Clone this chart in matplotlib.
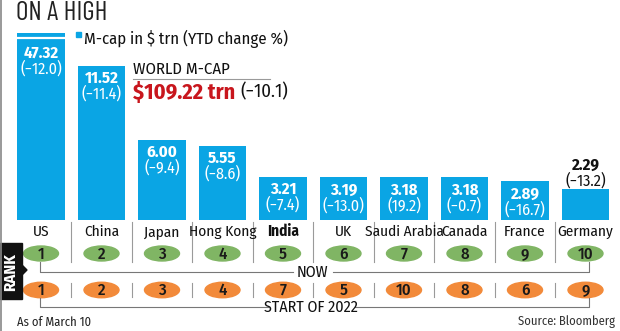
import matplotlib
matplotlib.use("Agg")
import matplotlib.pyplot as plt
from matplotlib.patches import Ellipse, Rectangle, Polygon

plt.rcParams['font.family'] = ['Fira Sans Condensed', 'Roboto Condensed', 'DejaVu Sans']
TITLE = ['Barlow Condensed', 'Oswald', 'Fira Sans Condensed', 'DejaVu Sans']

countries = ["US", "China", "Japan", "Hong Kong", "India", "UK",
             "Saudi Arabia", "Canada", "France", "Germany"]
mcap = [47.32, 11.52, 6.00, 5.55, 3.21, 3.19, 3.18, 3.18, 2.89, 2.29]
ytd = ["−12.0", "−11.4", "−9.4", "−8.6", "−7.4", "−13.0", "19.2", "−0.7", "−16.7", "−13.2"]
rank_now = [1, 2, 3, 4, 5, 6, 7, 8, 9, 10]
rank_start = [1, 2, 3, 4, 7, 5, 10, 8, 6, 9]

BLUE = "#0aa5e4"
GREEN = "#80b564"
ORANGE = "#f28a3a"
RED = "#c8161d"
GREY = "#9a9a9a"

W, H = 620, 331
fig = plt.figure(figsize=(W / 100, H / 100), dpi=100)


def fx(px):
    return px / W


def fy(py):
    return 1 - py / H


# bar area: bottom at y=220px, top at y=33px
ax = fig.add_axes([fx(10.75), fy(220), fx(605), (220 - 33) / H])
ymax = 187 / 13.4
ax.set_xlim(-0.5, len(countries) - 0.5)
ax.set_ylim(0, ymax)
ax.axis('off')
x = list(range(len(countries)))
ax.bar(x, mcap, width=0.79, color=BLUE, clip_on=True)

# scale break on the US bar
brk = (220 - 37.5) / 13.4
ax.plot([-0.42, 0.42], [brk, brk], color='white', lw=1.6, solid_capstyle='butt')

for i, v in enumerate(mcap):
    if i == len(mcap) - 1:
        ax.annotate(f"{v:.2f}", (i, v), xytext=(0, 24), textcoords='offset pixels',
                    ha='center', va='center', fontsize=12, fontweight='bold', color='#111')
        ax.annotate(f"({ytd[i]})", (i, v), xytext=(0, 8.5), textcoords='offset pixels',
                    ha='center', va='center', fontsize=11.5, color='#111')
    else:
        top = min(v, brk)
        off1, off2 = (15.5, 31.5) if v > ymax else (12.5, 28)
        ax.annotate(f"{v:.2f}", (i, top), xytext=(0, -off1), textcoords='offset pixels',
                    ha='center', va='center', fontsize=12, fontweight='bold', color='white')
        ax.annotate(f"({ytd[i]})", (i, top), xytext=(0, -off2), textcoords='offset pixels',
                    ha='center', va='center', fontsize=11.5, color='white')

# lower panel in pixel coordinates
lx = fig.add_axes([0, 0, 1, 1])
lx.set_xlim(0, W)
lx.set_ylim(H, 0)
lx.axis('off')
lx.patch.set_alpha(0)

pitch = 60.5
cx = [41 + pitch * i for i in range(len(countries))]

for i, name in enumerate(countries):
    lx.text(cx[i], 231.5, name, ha='center', va='center', fontsize=11,
            fontweight='bold' if name == "India" else 'normal', color='#111')
    lx.add_patch(Ellipse((cx[i], 253.5), 35, 15, color=GREEN))
    lx.text(cx[i], 254, str(rank_now[i]), ha='center', va='center', fontsize=12,
            fontweight='medium', color='#1a1a1a')
    lx.add_patch(Ellipse((cx[i], 290), 35, 15.5, color=ORANGE))
    lx.text(cx[i], 290.5, str(rank_start[i]), ha='center', va='center', fontsize=12,
            fontweight='medium', color='#1a1a1a')
    if i > 0:
        sx = cx[i] - pitch / 2
        lx.plot([sx, sx], [222, 262], color=GREY, lw=0.8)
        lx.plot([sx, sx], [283, 297], color=GREY, lw=0.8)

# NOW bracket
lx.plot([40, 40, 293], [262, 272, 272], color='#777', lw=0.8)
lx.plot([333, 589, 589], [272, 272, 262], color='#777', lw=0.8)
lx.text(312, 272, "NOW", ha='center', va='center', fontsize=11.5, color='#111')
# START OF 2022 bracket
lx.plot([40, 40, 268], [298, 307, 307], color='#777', lw=0.8)
lx.plot([355, 589, 589], [307, 307, 298], color='#777', lw=0.8)
lx.text(311, 307, "START OF 2022", ha='center', va='center', fontsize=11.5, color='#111')

# RANK tag
lx.add_patch(Rectangle((0, 243), 22, 56, color='#111'))
lx.add_patch(Polygon([[22, 265], [27, 270], [22, 275]], closed=True, color='#111'))
lx.text(11, 272, "RANK", rotation=90, ha='center', va='center', fontsize=12,
        fontweight='bold', color='white')

# left border
lx.plot([0.5, 0.5], [0, H], color='#888', lw=1.2)

# titles and notes
lx.text(16, 12.5, "ON A HIGH", ha='left', va='center', fontsize=19.5, family=TITLE, color='#222')
lx.add_patch(Rectangle((76, 32), 4.5, 5, color=BLUE))
lx.text(84, 39, "M-cap in $ trn (YTD change %)", ha='left', va='center', fontsize=12, color='#111')
lx.text(133, 69, "WORLD M-CAP", ha='left', va='center', fontsize=12, color='#111')
lx.plot([133, 270], [79, 79], color=GREY, lw=0.8)
red = lx.text(133, 92, "$109.22 trn", ha='left', va='center', fontsize=16, fontweight='bold', color=RED)
lx.annotate("(−10.1)", xy=(1, 0.5), xycoords=red, xytext=(5, 0), textcoords='offset pixels',
            ha='left', va='center', fontsize=13.5, color='#111')

lx.text(17, 322, "As of March 10", ha='left', va='center', fontsize=9, color='#222')
lx.text(615, 322, "Source: Bloomberg", ha='right', va='center', fontsize=9, color='#333')

fig.savefig("out.png", dpi=100)
